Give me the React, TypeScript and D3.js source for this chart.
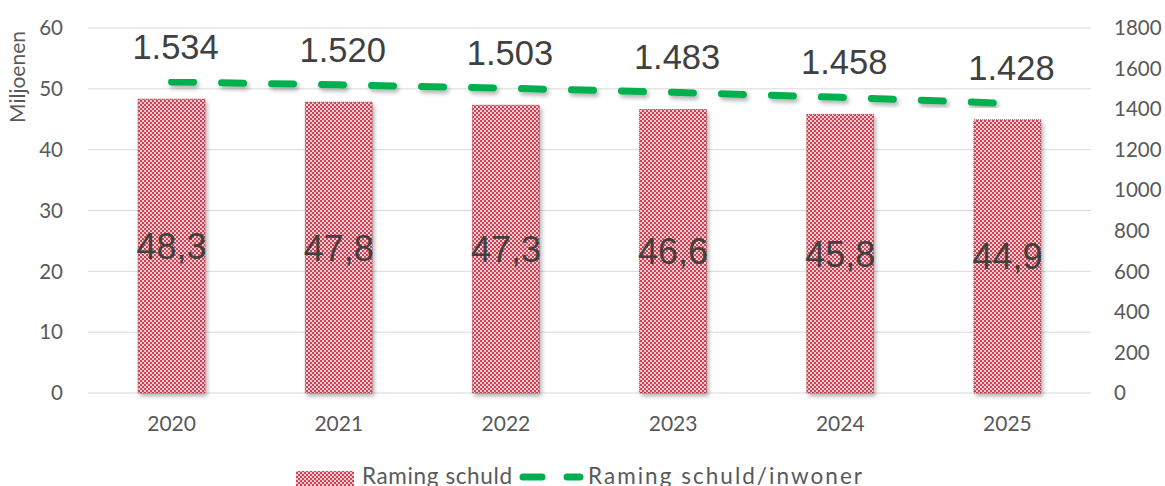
import React, { useEffect, useRef } from 'react';
import * as d3 from 'd3';

const years = ['2020', '2021', '2022', '2023', '2024', '2025'];
const schuld = [48.3, 47.8, 47.3, 46.6, 45.8, 44.9];
const perInwoner = [1534, 1520, 1503, 1483, 1458, 1428];
const leftTicks = [0, 10, 20, 30, 40, 50, 60];
const rightTicks = [0, 200, 400, 600, 800, 1000, 1200, 1400, 1600, 1800];

const W = 1165, H = 486;
const axisFont = 'Lato, sans-serif';
const labelFont = 'Liberation Sans, Arial, sans-serif';

export default function App() {
  const ref = useRef<SVGSVGElement>(null);

  useEffect(() => {
    const svg = d3.select(ref.current);
    svg.selectAll('*').remove();

    const left = 88, right = 1091, top = 28, bottom = 393;

    const x = d3.scaleBand().domain(years).range([left, right]).paddingInner(0.6).paddingOuter(0.3);
    const xc = d3.scaleBand().domain(years).range([left, right]);
    const y = d3.scaleLinear().domain([0, 60]).range([bottom, top]);
    const y2 = d3.scaleLinear().domain([0, 1800]).range([bottom, top]);

    const defs = svg.append('defs');
    const pat = defs.append('pattern')
      .attr('id', 'checker')
      .attr('width', 4).attr('height', 4)
      .attr('patternUnits', 'userSpaceOnUse');
    pat.append('rect').attr('width', 4).attr('height', 4).attr('fill', '#f5cdd1');
    pat.append('rect').attr('width', 2).attr('height', 2).attr('fill', '#d43f52');
    pat.append('rect').attr('x', 2).attr('y', 2).attr('width', 2).attr('height', 2).attr('fill', '#d43f52');

    const sh = defs.append('filter').attr('id', 'shadow')
      .attr('x', '-10%').attr('y', '-10%').attr('width', '130%').attr('height', '130%');
    sh.append('feDropShadow').attr('dx', 2).attr('dy', 3).attr('stdDeviation', 2)
      .attr('flood-color', '#000').attr('flood-opacity', 0.3);

    // gridlines
    svg.append('g').selectAll('line').data(leftTicks).join('line')
      .attr('x1', left).attr('x2', right)
      .attr('y1', d => y(d)).attr('y2', d => y(d))
      .attr('stroke', '#d9d9d9').attr('stroke-width', 1);

    // left axis labels
    svg.append('g').selectAll('text').data(leftTicks).join('text')
      .attr('x', 63).attr('y', d => y(d)).attr('dy', '0.35em')
      .attr('text-anchor', 'end')
      .attr('font-family', axisFont).attr('font-size', 20.5).attr('fill', '#595959')
      .text(d => d);

    // right axis labels
    svg.append('g').selectAll('text').data(rightTicks).join('text')
      .attr('x', 1114).attr('y', d => y2(d)).attr('dy', '0.35em')
      .attr('text-anchor', 'start')
      .attr('font-family', axisFont).attr('font-size', 20.5).attr('fill', '#595959')
      .text(d => d);

    svg.append('text')
      .attr('transform', `translate(25,77) rotate(-90)`)
      .attr('text-anchor', 'middle')
      .attr('font-family', axisFont).attr('font-size', 21).attr('fill', '#595959')
      .text('Miljoenen');

    // x labels
    svg.append('g').selectAll('text').data(years).join('text')
      .attr('x', d => xc(d)! + xc.bandwidth() / 2).attr('y', 424).attr('dy', '0.35em')
      .attr('text-anchor', 'middle')
      .attr('font-family', axisFont).attr('font-size', 21).attr('fill', '#595959')
      .text(d => d);

    // bars
    svg.append('g').selectAll('rect').data(schuld).join('rect')
      .attr('x', (d, i) => x(years[i])!)
      .attr('y', d => y(d))
      .attr('width', x.bandwidth())
      .attr('height', d => y(0) - y(d))
      .attr('fill', 'url(#checker)')
      .attr('stroke', '#9b3b45').attr('stroke-width', 1).attr('stroke-dasharray', '1 1')
      .attr('filter', 'url(#shadow)');

    svg.append('g').selectAll('text').data(schuld).join('text')
      .attr('x', (d, i) => xc(years[i])! + xc.bandwidth() / 2)
      .attr('y', d => (y(d) + y(0)) / 2).attr('dy', '0.36em')
      .attr('text-anchor', 'middle')
      .attr('font-family', labelFont).attr('font-size', 36).attr('fill', '#404040')
      .text(d => d3.format('.1f')(d).replace('.', ','));

    // line
    const line = d3.line<number>()
      .x((d, i) => xc(years[i])! + xc.bandwidth() / 2)
      .y(d => y2(d));
    svg.append('path').datum(perInwoner)
      .attr('d', line)
      .attr('fill', 'none')
      .attr('stroke', '#00b050').attr('stroke-width', 7)
      .attr('stroke-linecap', 'round')
      .attr('stroke-dasharray', '22 28')
      .attr('filter', 'url(#shadow)');

    svg.append('g').selectAll('text').data(perInwoner).join('text')
      .attr('x', (d, i) => xc(years[i])! + xc.bandwidth() / 2 + 4)
      .attr('y', d => y2(d) - 23)
      .attr('text-anchor', 'middle')
      .attr('font-family', labelFont).attr('font-size', 34.5).attr('fill', '#404040')
      .text(d => d3.format(',')(d).replace(',', '.'));

    // legend
    const lg = svg.append('g');
    lg.append('rect').attr('x', 296).attr('y', 471).attr('width', 58).attr('height', 18)
      .attr('fill', 'url(#checker)');
    lg.append('text').attr('x', 362).attr('y', 484)
      .attr('font-family', axisFont).attr('font-size', 22.5).attr('fill', '#595959')
      .attr('textLength', 150).attr('lengthAdjust', 'spacing')
      .text('Raming schuld');
    lg.append('line').attr('x1', 523).attr('x2', 542).attr('y1', 477).attr('y2', 477)
      .attr('stroke', '#00b050').attr('stroke-width', 7).attr('stroke-linecap', 'round');
    lg.append('line').attr('x1', 567).attr('x2', 580).attr('y1', 477).attr('y2', 477)
      .attr('stroke', '#00b050').attr('stroke-width', 7).attr('stroke-linecap', 'round');
    lg.append('text').attr('x', 588).attr('y', 484)
      .attr('font-family', axisFont).attr('font-size', 22.5).attr('fill', '#595959')
      .attr('textLength', 274).attr('lengthAdjust', 'spacing')
      .text('Raming schuld/inwoner');
  }, []);

  return (
    <svg ref={ref} width={W} height={H} style={{ position: 'absolute', left: 0, top: 0, background: '#fff' }} />
  );
}
